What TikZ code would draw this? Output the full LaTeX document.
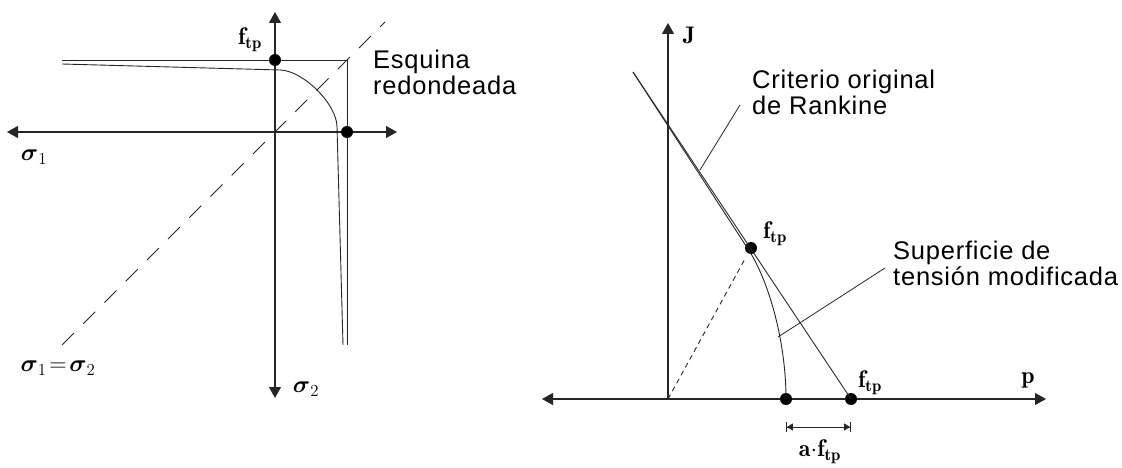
\RequirePackage{fix-cm}
\documentclass[tikz,border=0pt]{standalone}
\usepackage{amsmath}
\usepackage{fontspec}
\newfontfamily\ysnotefont[LetterSpace=3]{Liberation Sans}
\usetikzlibrary{arrows.meta}
\colorlet{ysink}{black!85}
\tikzset{
  ysaxisboth/.style={{Triangle[length=11pt,width=12pt]}-{Triangle[length=11pt,width=12pt]},line width=1.1pt,ysink},
  ysaxisend/.style={-{Triangle[length=11pt,width=12pt]},line width=1.1pt,ysink},
  ysline/.style={line width=0.9pt,ysink},
  ysdiag/.style={line width=0.9pt,ysink,dash pattern=on 17pt off 13pt},
  ysproj/.style={line width=0.9pt,ysink,dash pattern=on 5pt off 4pt},
  ysleader/.style={line width=0.8pt,ysink},
  ysdim/.style={{Bar[width=10pt]Triangle[length=6pt,width=7pt]}-{Triangle[length=6pt,width=7pt]Bar[width=10pt]},line width=0.9pt,ysink},
  ysdot/.style={circle,fill=black,minimum size=12pt,inner sep=0pt},
  ysmath/.style={font=\fontsize{24}{28}\selectfont,inner sep=0pt},
  ysnote/.style={font=\ysnotefont\fontsize{25.5}{26}\selectfont,align=left,inner sep=0pt,anchor=base west}
}
\begin{document}
\begin{tikzpicture}[x=1pt,y=-1pt]
  \useasboundingbox (0,0) rectangle (1122,468);

  % sigma1 - sigma2 plane
  \coordinate (lw) at (7,132);
  \coordinate (le) at (397,132);
  \coordinate (ln) at (275,12);
  \coordinate (ls) at (275,398);
  \draw[ysaxisboth] (lw) -- (le);
  \draw[ysaxisboth] (ls) -- (ln);

  \coordinate (sqw) at (62,60);
  \coordinate (sqc) at (347,60);
  \coordinate (sqs) at (347,345);
  \draw[ysline] (sqw) -- (sqc) -- (sqs);
  \draw[ysline] (62,64) -- (280,70) .. controls (303,70.5) and (337,104) .. (337,127) -- (343,345);

  \coordinate (dgs) at (62,345);
  \coordinate (dgn) at (385,22);
  \draw[ysdiag] (dgs) -- (dgn);

  \node[ysdot] (ftl) at (275,60) {};
  \node[ysdot] (ftr) at (347,132) {};

  \node[ysmath] (ftll) at (250,40) {$\mathbf{f}_{\mathbf{tp}}$};
  \node[ysmath] (s1) at (34,157) {$\boldsymbol{\sigma}_1$};
  \node[ysmath] (s12) at (58,368) {$\boldsymbol{\sigma}_1\!=\!\boldsymbol{\sigma}_2$};
  \node[ysmath] (s2) at (306,389) {$\boldsymbol{\sigma}_2$};
  \node[ysnote] (esq) at (373,95) {Esquina\\redondeada};

  % J - p plane
  \coordinate (o2) at (668,399);
  \coordinate (pw) at (542,399);
  \coordinate (pe) at (1046,399);
  \coordinate (jn) at (668,23);
  \draw[ysaxisboth] (pw) -- (pe);
  \draw[ysaxisend] (o2) -- (jn);

  \coordinate (rktop) at (633,72);
  \node[ysdot] (ftm) at (751,248) {};
  \node[ysdot] (ftp) at (851,399) {};
  \node[ysdot] (aft) at (786,399) {};
  \draw[ysline] (rktop) -- (ftp.center);
  \draw[ysline] (rktop) -- (748,249) .. controls (768,279) and (786,340) .. (aft.center);
  \coordinate (prj) at (746,257);
  \draw[ysproj] (o2) -- (prj);

  \coordinate (crl) at (700,170);
  \coordinate (crr) at (740,105);
  \draw[ysleader] (crl) -- (crr);
  \coordinate (sul) at (778,337);
  \coordinate (sur) at (885,268);
  \draw[ysleader] (sul) -- (sur);

  \coordinate (dma) at (786,427);
  \coordinate (dmb) at (851,427);
  \draw[ysdim] (dma) -- (dmb);

  \node[ysmath] (jl) at (689,35) {$\mathbf{J}$};
  \node[ysmath] (pl) at (1028,380) {$\mathbf{p}$};
  \node[ysmath] (ftml) at (775,234) {$\mathbf{f}_{\mathbf{tp}}$};
  \node[ysmath] (ftpl) at (870,383) {$\mathbf{f}_{\mathbf{tp}}$};
  \node[ysmath] (afl) at (820,452) {$\mathbf{a}{\cdot}\mathbf{f}_{\mathbf{tp}}$};
  \node[ysnote] (crit) at (752,115) {Criterio original\\de Rankine};
  \node[ysnote] (sup) at (893,285) {Superficie de\\tensión modificada};
\end{tikzpicture}
\end{document}
